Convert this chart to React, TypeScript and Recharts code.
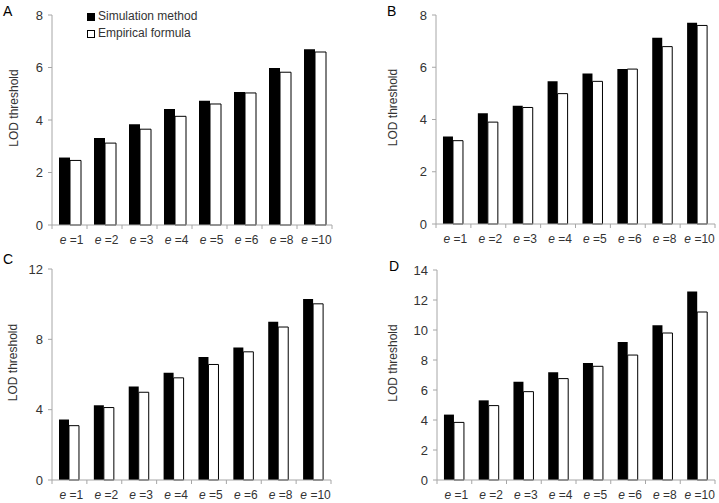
import React from 'react';
import { BarChart, Bar, XAxis, YAxis, Label } from 'recharts';

const categories = ['1', '2', '3', '4', '5', '6', '8', '10'];
const simA = [2.57, 3.31, 3.84, 4.42, 4.73, 5.07, 5.98, 6.7];
const empA = [2.46, 3.12, 3.65, 4.14, 4.61, 5.03, 5.82, 6.59];
const simB = [3.35, 4.24, 4.53, 5.46, 5.76, 5.93, 7.13, 7.7];
const empB = [3.19, 3.9, 4.46, 4.99, 5.46, 5.93, 6.79, 7.6];
const simC = [3.44, 4.25, 5.32, 6.1, 7.0, 7.54, 9.0, 10.29];
const empC = [3.09, 4.12, 4.99, 5.81, 6.57, 7.29, 8.7, 10.02];
const simD = [4.36, 5.31, 6.55, 7.18, 7.8, 9.2, 10.31, 12.56];
const empD = [3.84, 4.96, 5.89, 6.76, 7.58, 8.33, 9.8, 11.2];
const ticksA = [0, 2, 4, 6, 8];
const ticksB = [0, 2, 4, 6, 8];
const ticksC = [0, 4, 8, 12];
const ticksD = [0, 2, 4, 6, 8, 10, 12, 14];
const seriesNames = ['Simulation method', 'Empirical formula'];
const yTitle = 'LOD threshold';

const FONT = '"Liberation Sans", Arial, sans-serif';
const TEXT = '#333333';
const AXIS = '#a6a6a6';

const build = (sim: number[], emp: number[]) =>
  categories.map((c, i) => ({ cat: c, sim: sim[i], emp: emp[i] }));

const LegendBox = () => (
  <div
    style={{
      position: 'absolute',
      left: 87,
      top: 8,
      fontFamily: FONT,
      fontSize: 12,
      color: TEXT,
      lineHeight: '17px',
    }}
  >
    {seriesNames.map((n, i) => (
      <div key={n} style={{ display: 'flex', alignItems: 'center', height: 17 }}>
        <span
          style={{
            display: 'inline-block',
            width: 8,
            height: 8,
            boxSizing: 'border-box',
            background: i === 0 ? '#000' : '#fff',
            border: '1px solid #000',
            marginRight: 3,
          }}
        />
        <span>{n}</span>
      </div>
    ))}
  </div>
);

type PanelProps = {
  letter: string;
  plotLeft: number;
  plotTop: number;
  plotWidth: number;
  plotHeight: number;
  labelX: number;
  letterX: number;
  letterY: number;
  sim: number[];
  emp: number[];
  ticks: number[];
};

const Panel = (p: PanelProps) => {
  const ML = 52;
  const MT = 15;
  const XH = 25;
  const MR = 4;
  const width = ML + p.plotWidth + MR;
  const height = MT + p.plotHeight + XH;
  const left = p.plotLeft - ML;
  const top = p.plotTop - MT;
  const bw = p.plotWidth / categories.length;
  const data = build(p.sim, p.emp);
  const max = p.ticks[p.ticks.length - 1];

  const XTick = (props: any) => {
    const { x, y, payload } = props;
    const idx = payload.index;
    const ay = y - 4;
    return (
      <g>
        <line x1={x - bw / 2} x2={x - bw / 2} y1={ay} y2={ay + 4} stroke={AXIS} />
        {idx === categories.length - 1 && (
          <line x1={x + bw / 2} x2={x + bw / 2} y1={ay} y2={ay + 4} stroke={AXIS} />
        )}
        <text x={x + 2} y={ay + 19} textAnchor="middle" fontSize={12} fill={TEXT} fontFamily={FONT}>
          <tspan fontStyle="italic">e</tspan>
          <tspan>{' =' + payload.value}</tspan>
        </text>
      </g>
    );
  };

  const lx = p.labelX - left;
  const ly = MT + p.plotHeight / 2 - 12;
  const renderYLabel = () => (
    <text
      x={lx}
      y={ly}
      transform={`rotate(-90, ${lx}, ${ly})`}
      textAnchor="middle"
      dominantBaseline="central"
      fontSize={12}
      fill={TEXT}
      fontFamily={FONT}
    >
      {yTitle}
    </text>
  );

  return (
    <>
      <div
        style={{
          position: 'absolute',
          left: p.letterX,
          top: p.letterY,
          fontFamily: FONT,
          fontSize: 14,
          color: '#000',
          lineHeight: '14px',
        }}
      >
        {p.letter}
      </div>
      <div style={{ position: 'absolute', left, top }}>
        <BarChart
          width={width}
          height={height}
          data={data}
          margin={{ top: MT, right: MR, left: 12, bottom: 0 }}
          barCategoryGap="20%"
          barGap={0}
        >
          <XAxis
            dataKey="cat"
            height={XH}
            stroke={AXIS}
            tickLine={false}
            tickSize={4}
            tickMargin={0}
            interval={0}
            tick={<XTick />}
          />
          <YAxis
            width={40}
            domain={[0, max]}
            ticks={p.ticks}
            interval={0}
            stroke={AXIS}
            tickSize={4}
            tickMargin={5}
            tick={{ fill: TEXT, fontSize: 13, fontFamily: FONT }}
          >
            <Label content={renderYLabel} />
          </YAxis>
          <Bar dataKey="sim" name={seriesNames[0]} fill="#000000" isAnimationActive={false} />
          <Bar
            dataKey="emp"
            name={seriesNames[1]}
            fill="#ffffff"
            stroke="#000000"
            strokeWidth={1}
            isAnimationActive={false}
          />
        </BarChart>
      </div>
    </>
  );
};

export default function App() {
  return (
    <div
      style={{
        position: 'absolute',
        left: 0,
        top: 0,
        width: 719,
        height: 503,
        background: '#fff',
        overflow: 'hidden',
      }}
    >
      <Panel
        letter="A"
        plotLeft={52}
        plotTop={15}
        plotWidth={280}
        plotHeight={210}
        labelX={14}
        letterX={3}
        letterY={4}
        sim={simA}
        emp={empA}
        ticks={ticksA}
      />
      <Panel
        letter="B"
        plotLeft={436}
        plotTop={15}
        plotWidth={279}
        plotHeight={209}
        labelX={393}
        letterX={387}
        letterY={4}
        sim={simB}
        emp={empB}
        ticks={ticksB}
      />
      <Panel
        letter="C"
        plotLeft={52}
        plotTop={269}
        plotWidth={279}
        plotHeight={211}
        labelX={13}
        letterX={3}
        letterY={252}
        sim={simC}
        emp={empC}
        ticks={ticksC}
      />
      <Panel
        letter="D"
        plotLeft={437}
        plotTop={270}
        plotWidth={278}
        plotHeight={210}
        labelX={393}
        letterX={389}
        letterY={259}
        sim={simD}
        emp={empD}
        ticks={ticksD}
      />
      <LegendBox />
    </div>
  );
}
